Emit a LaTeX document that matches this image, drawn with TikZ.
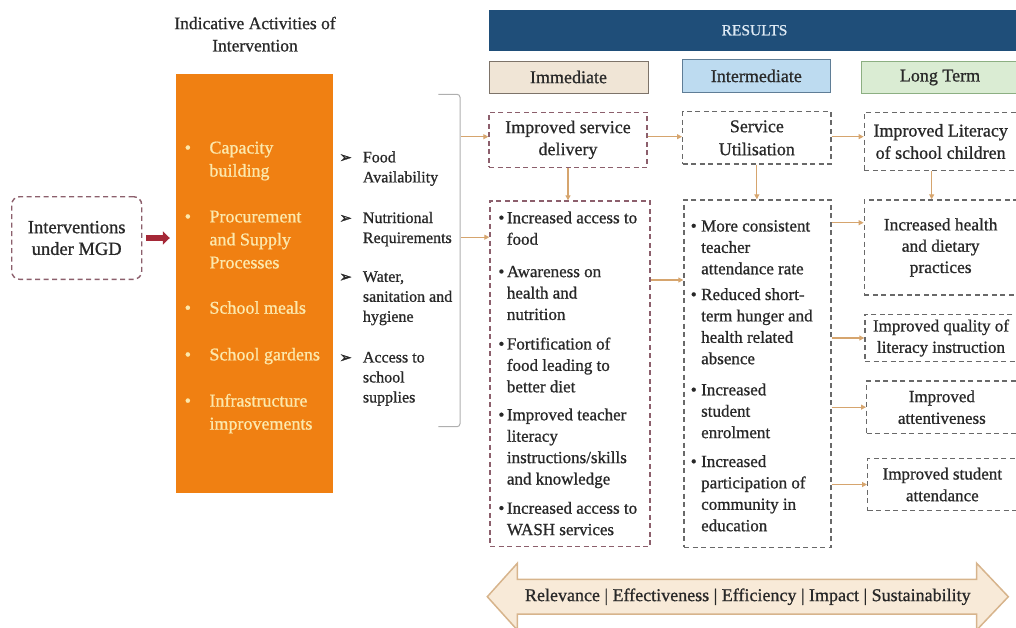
\documentclass[tikz,border=0pt]{standalone}
\usepackage{fontspec}
\setmainfont{Liberation Serif}[FakeBold=0.9]
\newfontfamily\dingfont{DejaVu Sans}[FakeBold=1.5]
\usetikzlibrary{arrows.meta}

\definecolor{ink}{RGB}{40,40,40}
\definecolor{orangefill}{RGB}{240,128,18}
\definecolor{orangetext}{RGB}{252,232,172}
\definecolor{maroonline}{RGB}{140,95,108}
\definecolor{redarrow}{RGB}{165,40,55}
\definecolor{greyline}{RGB}{105,105,105}
\definecolor{tanline}{RGB}{214,165,110}
\definecolor{bracketgrey}{RGB}{175,175,175}
\definecolor{resultsblue}{RGB}{31,78,121}
\definecolor{resultstext}{RGB}{222,234,245}
\definecolor{immfill}{RGB}{240,229,214}
\definecolor{immline}{RGB}{125,115,105}
\definecolor{intfill}{RGB}{189,219,240}
\definecolor{intline}{RGB}{95,125,150}
\definecolor{ltfill}{RGB}{218,236,211}
\definecolor{ltline}{RGB}{140,175,130}
\definecolor{evalfill}{RGB}{248,234,216}
\definecolor{evalline}{RGB}{215,180,140}

\begin{document}
\begin{tikzpicture}[x=1pt,y=-1pt,
  dashbox/.style={draw=greyline, line width=1.4pt, dash pattern=on 5pt off 3.5pt,
    inner sep=0, text=ink, align=center},
  maroonbox/.style={dashbox, draw=maroonline},
  hdr/.style={draw, line width=1pt, inner sep=0, text=ink,
    font=\fontsize{18}{18}\selectfont},
  txt/.style={inner sep=0, text=ink, align=left, anchor=north west},
  orangeitem/.style={txt, text=orangetext, font=\fontsize{18}{23}\selectfont},
  listitem/.style={txt, font=\fontsize{16}{20}\selectfont},
  bulletitem/.style={txt, font=\fontsize{17}{21.4}\selectfont},
  conn/.style={draw=tanline, line width=1.1pt, -{Triangle[length=5pt,width=5pt]}},
]
\useasboundingbox (0,0) rectangle (1016,627);
\begin{scope}
\clip (0,0) rectangle (1016,627);

% ---------- left part: interventions and activities ----------
\node[txt, anchor=north, align=center, font=\fontsize{17.5}{22.3}\selectfont]
  (title) at (255,16.6) {Indicative Activities of\\Intervention};

\node[maroonbox, rounded corners=8pt, minimum width=130pt, minimum height=82.6pt,
  font=\fontsize{18.5}{21.7}\selectfont] (interv) at (76.7,238)
  {Interventions\\under MGD};

\node[fill=orangefill, minimum width=157.3pt, minimum height=419.3pt, inner sep=0]
  (orange) at (254.65,283.65) {};

\draw[redarrow, line width=6pt, shorten <=4pt, shorten >=6pt,
  -{Triangle[length=7pt,width=13pt]}] (interv.east) -- (interv.east -| orange.west);

\newcommand\obul{\llap{\textbullet\hspace{18.5pt}}}
\node[orangeitem] (act1) at (209.3,141.4) {\obul Capacity\\building};
\node[orangeitem] (act2) at (209.3,210.4) {\obul Procurement\\and Supply\\Processes};
\node[orangeitem] (act3) at (209.3,301) {\obul School meals};
\node[orangeitem] (act4) at (209.3,347.7) {\obul School gardens};
\node[orangeitem] (act5) at (209.3,393.7) {\obul Infrastructure\\improvements};

\newcommand\abul{\llap{{\dingfont\fontsize{15}{15}\selectfont ➢}\hspace{11pt}}}
\node[listitem] (need1) at (362.7,151.1) {\abul Food\\Availability};
\node[listitem] (need2) at (362.7,211.7) {\abul Nutritional\\Requirements};
\node[listitem] (need3) at (362.7,271.1) {\abul Water,\\sanitation and\\hygiene};
\node[listitem] (need4) at (362.7,351.7) {\abul Access to\\school\\supplies};

% bracket gathering the needs
\draw[bracketgrey, line width=1pt, rounded corners=3pt]
  (438.3,94.3) -- (460,94.3) -- (460,426.7) -- (438.3,426.7);
\coordinate (brk1) at (461,136.7);
\coordinate (brk2) at (461,237.2);

% ---------- results header ----------
\node[fill=resultsblue, minimum width=531pt, minimum height=41.5pt, inner sep=0,
  text=resultstext, font=\fontsize{15.5}{15.5}\selectfont] (results) at (754.5,30.25) {RESULTS};
\node[hdr, draw=immline, fill=immfill, minimum width=159pt, minimum height=32pt]
  (imm) at (568.5,77) {Immediate};
\node[hdr, draw=intline, fill=intfill, minimum width=147.3pt, minimum height=32.8pt]
  (int) at (756.35,75.9) {Intermediate};
\node[hdr, draw=ltline, fill=ltfill, minimum width=156.6pt, minimum height=31.7pt]
  (lt) at (940,77.5) {Long Term};

% ---------- result boxes ----------
\node[maroonbox, minimum width=158pt, minimum height=55pt, font=\fontsize{18}{22}\selectfont]
  (sd) at (568,139.8) {Improved service\\delivery};
\node[dashbox, minimum width=148.3pt, minimum height=52.3pt, font=\fontsize{18}{23}\selectfont]
  (su) at (756.85,137.85) {Service\\Utilisation};
\node[dashbox, minimum width=152.7pt, minimum height=58.4pt, font=\fontsize{18}{22.3}\selectfont]
  (lit) at (940.65,141.5) {Improved Literacy\\of school children};

\node[maroonbox, minimum width=160pt, minimum height=345.7pt] (b1) at (570,373.85) {};
\node[dashbox, minimum width=147pt, minimum height=347.3pt] (b2) at (757.5,373.65) {};

\node[dashbox, minimum width=152.7pt, minimum height=95pt, font=\fontsize{17.4}{21.3}\selectfont]
  (health) at (940.65,247.5) {Increased health\\and dietary\\practices};
\node[dashbox, minimum width=152pt, minimum height=47.4pt, font=\fontsize{17}{21.4}\selectfont]
  (quality) at (941,338) {Improved quality of\\literacy instruction};
\node[dashbox, minimum width=150.3pt, minimum height=52.3pt, font=\fontsize{17}{21.7}\selectfont]
  (attent) at (941.85,407.15) {Improved\\attentiveness};
\node[dashbox, minimum width=149.3pt, minimum height=52.4pt, font=\fontsize{17}{21.7}\selectfont]
  (attend) at (942.35,484.5) {Improved student\\attendance};

% bullet lists
\newcommand\ibul{\llap{\textbullet\hspace{2.5pt}}}
\node[bulletitem] (imm1) at (506.7,211.3) {\ibul Increased access to\\food};
\node[bulletitem] (imm2) at (506.7,265.7) {\ibul Awareness on\\health and\\nutrition};
\node[bulletitem] (imm3) at (506.7,337.3) {\ibul Fortification of\\food leading to\\better diet};
\node[bulletitem] (imm4) at (506.7,408.3) {\ibul Improved teacher\\literacy\\instructions/skills\\and knowledge};
\node[bulletitem] (imm5) at (506.7,501.7) {\ibul Increased access to\\WASH services};

\newcommand\mbul{\llap{\textbullet\hspace{4.5pt}}}
\node[bulletitem] (mid1) at (701,220) {\mbul More consistent\\teacher\\attendance rate};
\node[bulletitem] (mid2) at (701,288) {\mbul Reduced short-\\term hunger and\\health related\\absence};
\node[bulletitem] (mid3) at (701,383.3) {\mbul Increased\\student\\enrolment};
\node[bulletitem] (mid4) at (701,455) {\mbul Increased\\participation of\\community in\\education};

% ---------- connectors ----------
\draw[conn] (brk1) -- (brk1 -| sd.west);
\draw[conn] (brk2) -- (brk2 -| b1.west);
\draw[conn] ([yshift=3.1pt]sd.east) -- ([yshift=3.1pt]sd.east -| su.west);
\draw[conn] ([yshift=1.2pt]su.east) -- ([yshift=1.2pt]su.east -| lit.west);
\draw[conn] (sd.south) -- (sd.south |- b1.north);
\draw[conn] (su.south) -- (su.south |- b2.north);
\draw[conn] ([xshift=-9pt]lit.south) -- ([xshift=-9pt]lit.south |- health.north);
\draw[conn] (b1.east |- 0,280) -- (b2.west |- 0,280);
\draw[conn] (b2.east |- 0,222.7) -- (health.west |- 0,222.7);
\draw[conn] (b2.east |- quality.west) -- (quality.west);
\draw[conn] (b2.east |- attent.west) -- (attent.west);
\draw[conn] (b2.east |- attend.west) -- (attend.west);

% ---------- evaluation criteria arrow ----------
\path[fill=evalfill, draw=evalline, line width=1.5pt, line join=miter]
  (487.3,596.7) -- (517.3,563.3) -- (517.3,579.3) -- (976.7,579.3) -- (976.7,563.3)
  -- (1008.3,596.7) -- (976.7,630) -- (976.7,614) -- (517.3,614) -- (517.3,630) -- cycle;
\node[inner sep=0, text=ink, font=\fontsize{18}{18}\selectfont] (criteria) at (747.8,596.7)
  {Relevance | Effectiveness | Efficiency | Impact | Sustainability};
\end{scope}
\end{tikzpicture}
\end{document}
